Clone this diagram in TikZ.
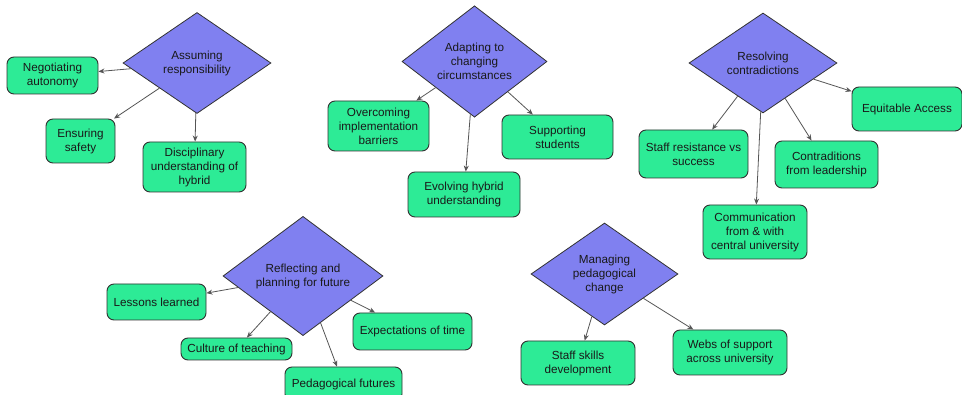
\documentclass[tikz,border=0pt]{standalone}
\usepackage{fontspec}
\setmainfont{Liberation Sans}
\usetikzlibrary{shapes.geometric,arrows.meta}
\definecolor{diafill}{RGB}{128,128,240}
\definecolor{leaffill}{RGB}{45,235,150}
\definecolor{edgegray}{RGB}{50,50,50}
\definecolor{conngray}{RGB}{85,85,85}
\tikzset{
  dia/.style={diamond, draw=edgegray, line width=0.8pt, fill=diafill, inner sep=0pt,
    align=center, font=\fontsize{11.7}{14}\selectfont, text=black!90},
  leaf/.style={rectangle, rounded corners=7pt, draw=edgegray, line width=0.9pt, fill=leaffill,
    inner sep=0pt, align=center, font=\fontsize{11.7}{14}\selectfont, text=black!90},
  conn/.style={draw=conngray, line width=0.8pt, -{Stealth[length=6pt,width=5pt]}},
}
\begin{document}
\begin{tikzpicture}[x=1pt,y=-1pt]
\clip (0,0) rectangle (962,395);
\fill[white] (0,0) rectangle (962,395);
% diamonds
\node[dia, minimum width=148pt, minimum height=101pt] (d1) at (197,63) {Assuming\\responsibility};
\node[dia, minimum width=145pt, minimum height=104pt] (d2) at (474.5,61.5) {Adapting to\\changing\\circumstances};
\node[dia, minimum width=148pt, minimum height=100pt] (d3) at (763,63) {Resolving\\contradictions};
\node[dia, minimum width=160pt, minimum height=98pt] (d4) at (303,276) {Reflecting and\\planning for future};
\node[dia, minimum width=147pt, minimum height=102pt] (d5) at (604.5,274) {Managing\\pedagogical\\change};
% leaves group 1
\node[leaf, minimum width=91pt, minimum height=37pt] (neg) at (52.5,75.5) {Negotiating\\autonomy};
\node[leaf, minimum width=69pt, minimum height=44pt] (safe) at (80.5,141) {Ensuring\\safety};
\node[leaf, minimum width=103pt, minimum height=50pt] (disc) at (194.5,167) {Disciplinary\\understanding of\\hybrid};
% group 2
\node[leaf, minimum width=101pt, minimum height=50pt] (over) at (378.5,126) {Overcoming\\implementation\\barriers};
\node[leaf, minimum width=111pt, minimum height=44pt] (supp) at (557.5,137) {Supporting\\students};
\node[leaf, minimum width=112pt, minimum height=45pt] (evol) at (464,194.5) {Evolving hybrid\\understanding};
% group 3
\node[leaf, minimum width=110pt, minimum height=44pt] (equi) at (907,109) {Equitable Access};
\node[leaf, minimum width=109pt, minimum height=48pt] (sres) at (693.5,154) {Staff resistance vs\\success};
\node[leaf, minimum width=103pt, minimum height=47pt] (cont) at (826.5,164.5) {Contraditions\\from leadership};
\node[leaf, minimum width=104pt, minimum height=54pt] (comm) at (755,232) {Communication\\from \& with\\central university};
% group 4
\node[leaf, minimum width=99pt, minimum height=36pt] (less) at (156.5,302) {Lessons learned};
\node[leaf, minimum width=111pt, minimum height=22pt] (cult) at (236.5,349) {Culture of teaching};
\node[leaf, minimum width=119pt, minimum height=37pt] (expe) at (412.5,331.5) {Expectations of time};
\node[leaf, minimum width=117pt, minimum height=34pt] (pedf) at (343.5,384) {Pedagogical futures};
% group 5
\node[leaf, minimum width=114pt, minimum height=44pt] (skil) at (578,363) {Staff skills\\development};
\node[leaf, minimum width=114pt, minimum height=45pt] (webs) at (730,352.5) {Webs of support\\across university};
% connectors
\draw[conn] (d1) -- (neg);
\draw[conn] (d1) -- (safe);
\draw[conn] (d1) -- (disc);
\draw[conn] (d2) -- (over);
\draw[conn] (d2) -- (supp);
\draw[conn] (d2) -- (evol);
\draw[conn] (d3) -- (equi);
\draw[conn] (d3) -- (sres);
\draw[conn] (d3) -- (cont);
\draw[conn] (d3) -- (comm);
\draw[conn] (d4) -- (less);
\draw[conn] (d4) -- (cult);
\draw[conn] (d4) -- (expe);
\draw[conn] (d4) -- (pedf);
\draw[conn] (d5) -- (skil);
\draw[conn] (d5) -- (webs);
\end{tikzpicture}
\end{document}
